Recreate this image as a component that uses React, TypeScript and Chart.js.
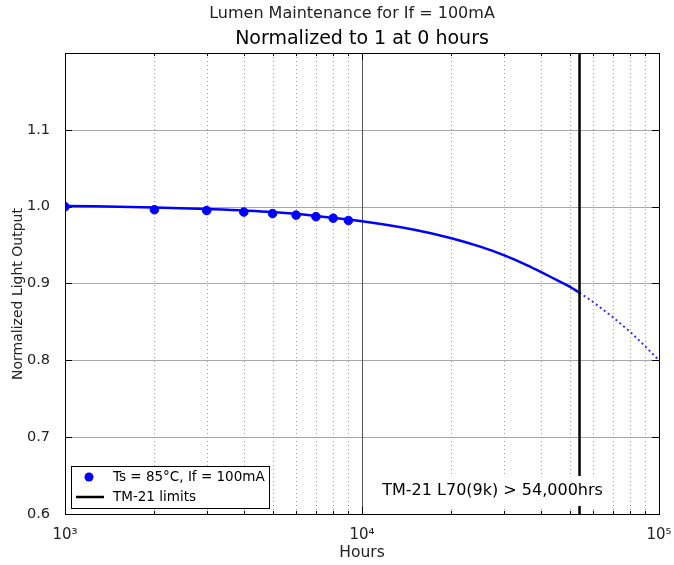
import React, { useEffect, useRef } from "react";
import { Chart, registerables } from "chart.js";

Chart.register(...registerables);

// ---- data ----
const sampleHours = [1000, 2000, 3000, 4000, 5000, 6000, 7000, 8000, 9000];
const sampleOutput = [1.0, 0.996, 0.995, 0.993, 0.991, 0.989, 0.987, 0.985, 0.982];

const fitHours = [1000, 2000, 3000, 5000, 7000, 10000, 15000, 20000, 25000, 30000, 35000, 40000, 45000, 50000, 54000];
const fitOutput = [1.001, 0.999, 0.997, 0.993, 0.988, 0.981, 0.970, 0.959, 0.948, 0.937, 0.926, 0.915, 0.905, 0.896, 0.888];

const projHours = [54000, 60000, 70000, 80000, 90000, 100000];
const projOutput = [0.888, 0.876, 0.856, 0.837, 0.818, 0.800];

const tm21Hours = [54000, 54000];
const tm21Output = [0.6, 1.2];

const yTicks = [0.6, 0.7, 0.8, 0.9, 1.0, 1.1];
const xMajorTicks = [1000, 10000, 100000];
const xMajorLabels = ["10\u00b3", "10\u2074", "10\u2075"];
const xMinorTicks = [2000, 3000, 4000, 5000, 6000, 7000, 8000, 9000, 20000, 30000, 40000, 50000, 60000, 70000, 80000, 90000];

const titleText = "Lumen Maintenance for If = 100mA";
const subtitleText = "Normalized to 1 at 0 hours";
const xTitle = "Hours";
const yTitle = "Normalized Light Output";
const sampleLabel = "Ts = 85\u00b0C, If = 100mA";
const limitLabel = "TM-21 limits";
const annotationText = "TM-21 L70(9k) > 54,000hrs";
const annotationAt = { x: 11700, y: 0.63 };

const FONT = "'DejaVu Sans', sans-serif";
const BLUE = "#0000ff";

const toXY = (xs: number[], ys: number[]) => xs.map((x, i) => ({ x, y: ys[i] }));

const decorPlugin = {
  id: "decor",
  beforeDatasetsDraw(chart: any) {
    const { ctx, chartArea: ca, scales } = chart;
    const xs = scales.x;
    const ys = scales.y;
    ctx.save();
    ctx.strokeStyle = "#a8a8a8";
    ctx.lineWidth = 1;
    yTicks.forEach((v) => {
      const y = Math.round(ys.getPixelForValue(v)) + 0.5;
      if (y <= ca.top + 1 || y >= ca.bottom - 1) return;
      ctx.beginPath();
      ctx.moveTo(ca.left, y);
      ctx.lineTo(ca.right, y);
      ctx.stroke();
    });
    ctx.setLineDash([1, 3]);
    ctx.strokeStyle = "#999";
    xMinorTicks.forEach((v) => {
      const x = Math.round(xs.getPixelForValue(v)) + 0.5;
      ctx.beginPath();
      ctx.moveTo(x, ca.top);
      ctx.lineTo(x, ca.bottom);
      ctx.stroke();
    });
    ctx.setLineDash([]);
    ctx.strokeStyle = "#555";
    xMajorTicks.forEach((v) => {
      const x = Math.round(xs.getPixelForValue(v)) + 0.5;
      if (x <= ca.left + 1 || x >= ca.right - 1) return;
      ctx.beginPath();
      ctx.moveTo(x, ca.top);
      ctx.lineTo(x, ca.bottom);
      ctx.stroke();
    });
    ctx.restore();
  },
  afterDatasetsDraw(chart: any) {
    const { ctx, chartArea: ca, scales } = chart;
    const xs = scales.x;
    const ys = scales.y;
    ctx.save();
    // titles
    ctx.textAlign = "center";
    ctx.textBaseline = "middle";
    ctx.fillStyle = "#222";
    ctx.font = `16px ${FONT}`;
    ctx.fillText(titleText, 352, 14);
    ctx.fillStyle = "#000";
    ctx.font = `19px ${FONT}`;
    ctx.fillText(subtitleText, (ca.left + ca.right) / 2, 39);

    // y axis title
    ctx.save();
    ctx.translate(18, 294);
    ctx.rotate(-Math.PI / 2);
    ctx.fillStyle = "#222";
    ctx.font = `14px ${FONT}`;
    ctx.fillText(yTitle, 0, 0);
    ctx.restore();

    // annotation with white bbox
    ctx.font = `16px ${FONT}`;
    ctx.textBaseline = "middle";
    ctx.textAlign = "left";
    const tx = xs.getPixelForValue(annotationAt.x);
    const ty = ys.getPixelForValue(annotationAt.y);
    const w = ctx.measureText(annotationText).width;
    ctx.fillStyle = "#fff";
    ctx.fillRect(tx - 4, ty - 15, w + 8, 30);
    ctx.fillStyle = "#000";
    ctx.fillText(annotationText, tx, ty);

    // ticks (inward)
    ctx.strokeStyle = "#000";
    ctx.lineWidth = 1;
    const tick = (x1: number, y1: number, x2: number, y2: number) => {
      ctx.beginPath();
      ctx.moveTo(x1, y1);
      ctx.lineTo(x2, y2);
      ctx.stroke();
    };
    yTicks.forEach((v) => {
      const y = Math.round(ys.getPixelForValue(v)) + 0.5;
      tick(ca.left, y, ca.left + 7, y);
      tick(ca.right, y, ca.right - 7, y);
    });
    xMajorTicks.forEach((v) => {
      const x = Math.round(xs.getPixelForValue(v)) + 0.5;
      tick(x, ca.bottom, x, ca.bottom - 7);
      tick(x, ca.top, x, ca.top + 7);
    });
    xMinorTicks.forEach((v) => {
      const x = Math.round(xs.getPixelForValue(v)) + 0.5;
      tick(x, ca.bottom, x, ca.bottom - 3);
      tick(x, ca.top, x, ca.top + 3);
    });

    // frame
    ctx.strokeRect(Math.round(ca.left) + 0.5, Math.round(ca.top) + 0.5, Math.round(ca.right - ca.left), Math.round(ca.bottom - ca.top));

    // legend
    const lx = ca.left + 6;
    const ly = ca.bottom - 48;
    const lw = 198;
    const lh = 42;
    ctx.fillStyle = "#fff";
    ctx.fillRect(lx, ly, lw, lh);
    ctx.strokeStyle = "#000";
    ctx.strokeRect(lx + 0.5, ly + 0.5, lw, lh);
    ctx.fillStyle = BLUE;
    ctx.beginPath();
    ctx.arc(lx + 18, ly + 11, 4.5, 0, Math.PI * 2);
    ctx.fill();
    ctx.strokeStyle = "#000";
    ctx.lineWidth = 2.5;
    ctx.beginPath();
    ctx.moveTo(lx + 5, ly + 31);
    ctx.lineTo(lx + 33, ly + 31);
    ctx.stroke();
    ctx.fillStyle = "#000";
    ctx.font = `13.5px ${FONT}`;
    ctx.textAlign = "left";
    ctx.textBaseline = "middle";
    ctx.fillText(sampleLabel, lx + 42, ly + 11);
    ctx.fillText(limitLabel, lx + 42, ly + 31);
    ctx.restore();
  },
};

export default function App() {
  const ref = useRef<HTMLCanvasElement | null>(null);
  useEffect(() => {
    if (!ref.current) return;
    Chart.defaults.font.family = FONT;
    const chart = new Chart(ref.current, {
      type: "line",
      data: {
        datasets: [
          {
            label: limitLabel,
            data: toXY(tm21Hours, tm21Output),
            borderColor: "#000",
            borderWidth: 2.5,
            pointRadius: 0,
            order: 0,
            clip: 0,
          },
          {
            label: sampleLabel,
            data: toXY(sampleHours, sampleOutput),
            showLine: false,
            pointRadius: 4.3,
            pointBackgroundColor: BLUE,
            pointBorderColor: BLUE,
            pointBorderWidth: 1,
            order: 1,
            clip: 0,
          },
          {
            label: "fit",
            data: toXY(fitHours, fitOutput),
            borderColor: BLUE,
            borderWidth: 2.5,
            pointRadius: 0,
            cubicInterpolationMode: "monotone",
            order: 2,
            clip: 0,
          },
          {
            label: "projection",
            data: toXY(projHours, projOutput),
            borderColor: "#3030ff",
            borderWidth: 2,
            borderDash: [2, 3],
            pointRadius: 0,
            order: 3,
            clip: 0,
          },
        ],
      },
      options: {
        animation: false,
        responsive: false,
        maintainAspectRatio: false,
        layout: { padding: { top: 53, right: 15, left: 0, bottom: 0 } },
        plugins: {
          legend: { display: false },
          tooltip: { enabled: false },
          title: { display: false },
          subtitle: { display: false },
        },
        scales: {
          x: {
            type: "logarithmic",
            min: 1000,
            max: 100000,
            position: "bottom",
            grid: { display: false },
            border: { display: false },
            afterBuildTicks: (s: any) => {
              s.ticks = xMajorTicks.map((v) => ({ value: v, major: true }));
            },
            afterFit: (s: any) => {
              s.height = 51;
              s.paddingRight = 0;
              s.paddingLeft = 0;
            },
            ticks: {
              autoSkip: false,
              maxRotation: 0,
              color: "#222",
              padding: 4,
              font: { size: 15, family: FONT },
              callback: (v: any) => {
                const i = xMajorTicks.indexOf(Number(v));
                return i >= 0 ? xMajorLabels[i] : "";
              },
            },
            title: {
              display: true,
              text: xTitle,
              color: "#222",
              font: { size: 15.5, family: FONT },
              padding: { top: 0, bottom: 3 },
            },
          },
          y: {
            min: 0.6,
            max: 1.2,
            grid: { display: false },
            border: { display: false },
            afterBuildTicks: (s: any) => {
              s.ticks = yTicks.map((v) => ({ value: v }));
            },
            afterFit: (s: any) => {
              s.width = 65;
              s.paddingTop = 0;
              s.paddingBottom = 0;
            },
            ticks: {
              color: "#222",
              padding: 7,
              font: { size: 14.5, family: FONT },
              callback: (v: any) => Number(v).toFixed(1),
            },
            title: { display: false },
          },
        },
      },
      plugins: [decorPlugin],
    });
    return () => chart.destroy();
  }, []);

  return (
    <div style={{ position: "fixed", left: 0, top: 0, width: 674, height: 565, background: "#fff" }}>
      <canvas ref={ref} width={674} height={565} style={{ width: 674, height: 565 }} />
    </div>
  );
}
